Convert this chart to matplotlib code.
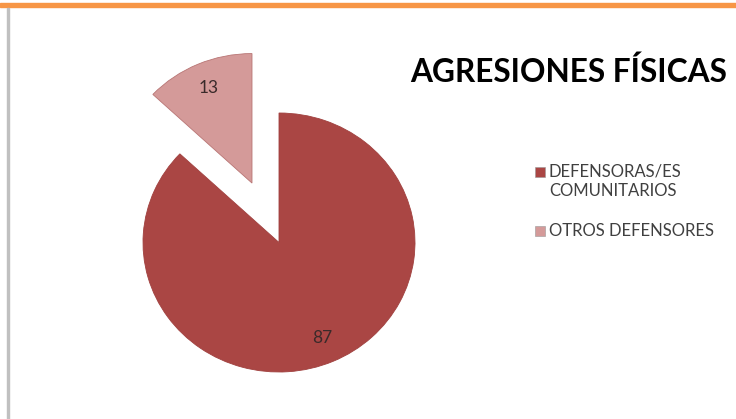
import matplotlib.pyplot as plt
from matplotlib.patches import Rectangle

categories = ['DEFENSORAS/ES\nCOMUNITARIOS', 'OTROS DEFENSORES']
values = [87, 13]
colors = ['#AA4644', '#D49A99']
title = 'AGRESIONES FÍSICAS'

W, H = 736, 419
fig = plt.figure(figsize=(W / 100, H / 100), dpi=100)
fig.patch.set_facecolor('white')

# orange band on top, grey rule on the left
fig.patches.append(Rectangle((0, 1 - 7 / H), 1, 4 / H, transform=fig.transFigure,
                             color='#F79646', zorder=0))
fig.patches.append(Rectangle((7 / W, 0), 2 / W, 1 - 8 / H, transform=fig.transFigure,
                             color='#C0C0C0', zorder=0))

# pie centre and radii in pixels (slightly wider than tall, like the original)
cx, cy, rx, ry = 279, 242.5, 136, 129.5
k = 1.8
ax = fig.add_axes([(cx - k * rx) / W, (H - cy - k * ry) / H, 2 * k * rx / W, 2 * k * ry / H])
wedges, texts, autotexts = ax.pie(
    values, colors=colors, startangle=90, counterclock=False,
    explode=[0, 0.5], autopct=lambda p: '%d' % round(p), pctdistance=0.8,
    wedgeprops=dict(linewidth=0.6),
    textprops=dict(fontsize=12.5, color='#3a2a2a', family='Lato'))
wedges[0].set_edgecolor('#A0403E')
wedges[1].set_edgecolor('#B87574')
ax.set_aspect('auto')
ax.set_xlim(-k, k)
ax.set_ylim(-k, k)
ax.axis('off')

fig.text(569 / W, 1 - 72 / H, title, ha='center', va='center',
         fontsize=22.8, fontweight='bold', family='Lato', color='#000000')

# legend
ys = [172, 231]
for lab, col, y in zip(categories, colors, ys):
    fig.patches.append(Rectangle((535 / W, 1 - (y + 5) / H), 10 / W, 10 / H,
                                 transform=fig.transFigure, facecolor=col,
                                 edgecolor='#999999', linewidth=0.4))
    fig.text(549 / W, 1 - (y - 8.5) / H, lab, ha='left', va='top', fontsize=12,
             family='Lato', color='#404040', linespacing=1.3)

fig.savefig('out.png', dpi=100)
